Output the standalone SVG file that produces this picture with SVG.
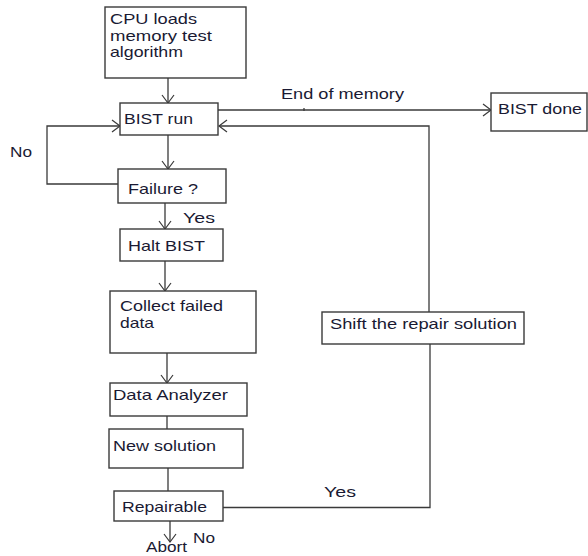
<svg xmlns="http://www.w3.org/2000/svg" width="588" height="556" viewBox="0 0 588 556">
<defs>
<style>
.box{fill:#fff;stroke:#3a3a3a;stroke-width:1.4}
.ln{fill:none;stroke:#3a3a3a;stroke-width:1.3}
.t{font-family:"Liberation Sans",Arial,sans-serif;font-size:15px;fill:#1a1a33}
</style>
<marker id="ah" viewBox="-10 -8 12 16" markerWidth="12" markerHeight="16" refX="0" refY="0" orient="auto" markerUnits="userSpaceOnUse">
<path d="M-8,-6 L0,0 L-8,6" fill="none" stroke="#3a3a3a" stroke-width="1.2"/>
</marker>
</defs>
<rect width="588" height="556" fill="#fff"/>
<g id="connectors">
<path class="ln" d="M168,78 V103" marker-end="url(#ah)"/>
<path class="ln" d="M218,110 H491" marker-end="url(#ah)"/>
<path class="ln" d="M304,108 V111"/>
<path class="ln" d="M429,312 V126 H219" marker-end="url(#ah)"/>
<path class="ln" d="M168,135 V169" marker-end="url(#ah)"/>
<path class="ln" d="M118,184 H47 V126 H120" marker-end="url(#ah)"/>
<path class="ln" d="M165,203 V229" marker-end="url(#ah)"/>
<path class="ln" d="M165,261 V291" marker-end="url(#ah)"/>
<path class="ln" d="M167,353 V383" marker-end="url(#ah)"/>
<path class="ln" d="M167,416 V429"/>
<path class="ln" d="M168,468 V491"/>
<path class="ln" d="M430,344 V507.5 H223"/>
<path class="ln" d="M170,521 V542" marker-end="url(#ah)"/>
</g>
<g id="n-cpu"><rect class="box" x="105" y="7" width="141" height="71"/>
<text class="t" x="110" y="24" textLength="87" lengthAdjust="spacingAndGlyphs">CPU loads</text>
<text class="t" x="110" y="41" textLength="102" lengthAdjust="spacingAndGlyphs">memory test</text>
<text class="t" x="110" y="57" textLength="73" lengthAdjust="spacingAndGlyphs">algorithm</text></g>
<g id="n-bistrun"><rect class="box" x="120" y="103" width="98" height="32"/>
<text class="t" x="124" y="124" textLength="69" lengthAdjust="spacingAndGlyphs">BIST run</text></g>
<g id="n-bistdone"><rect class="box" x="491" y="93" width="96" height="38"/>
<text class="t" x="498" y="114" textLength="84" lengthAdjust="spacingAndGlyphs">BIST done</text></g>
<g id="n-failure"><rect class="box" x="118" y="169" width="108" height="34"/>
<text class="t" x="128" y="194" textLength="70" lengthAdjust="spacingAndGlyphs">Failure ?</text></g>
<g id="n-halt"><rect class="box" x="120" y="229" width="103" height="32"/>
<text class="t" x="128" y="251" textLength="77" lengthAdjust="spacingAndGlyphs">Halt BIST</text></g>
<g id="n-collect"><rect class="box" x="110" y="291" width="146" height="62"/>
<text class="t" x="120" y="311" textLength="103" lengthAdjust="spacingAndGlyphs">Collect failed</text>
<text class="t" x="120" y="328" textLength="34" lengthAdjust="spacingAndGlyphs">data</text></g>
<g id="n-analyzer"><rect class="box" x="110" y="383" width="137" height="33"/>
<text class="t" x="113" y="400" textLength="115" lengthAdjust="spacingAndGlyphs">Data Analyzer</text></g>
<g id="n-newsol"><rect class="box" x="109" y="429" width="134" height="39"/>
<text class="t" x="113" y="451" textLength="103" lengthAdjust="spacingAndGlyphs">New solution</text></g>
<g id="n-repairable"><rect class="box" x="114" y="491" width="109" height="30"/>
<text class="t" x="122" y="512" textLength="85" lengthAdjust="spacingAndGlyphs">Repairable</text></g>
<g id="n-shift"><rect class="box" x="322" y="312" width="202" height="32"/>
<text class="t" x="330" y="329" textLength="187" lengthAdjust="spacingAndGlyphs">Shift the repair solution</text></g>
<g id="n-abort"><text class="t" x="146" y="552" font-size="14" textLength="41" lengthAdjust="spacingAndGlyphs">Abort</text></g>
<g id="labels">
<text class="t" x="281" y="99" textLength="123" lengthAdjust="spacingAndGlyphs">End of memory</text>
<text class="t" x="10" y="157" textLength="22" lengthAdjust="spacingAndGlyphs">No</text>
<text class="t" x="183" y="223" textLength="32" lengthAdjust="spacingAndGlyphs">Yes</text>
<text class="t" x="324" y="497" textLength="32" lengthAdjust="spacingAndGlyphs">Yes</text>
<text class="t" x="193" y="543" textLength="22" lengthAdjust="spacingAndGlyphs">No</text>
</g>
</svg>
